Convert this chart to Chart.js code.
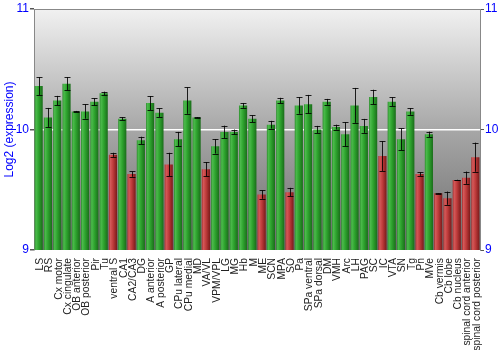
<!DOCTYPE html>
<html>
<head>
<meta charset="utf-8">
<script src="https://cdn.jsdelivr.net/npm/chart.js@4/dist/chart.umd.min.js"></script>
<style>
html,body{margin:0;padding:0;background:#fff;}
#wrap{width:500px;height:350px;}
</style>
</head>
<body>
<div id="wrap"><canvas id="c" width="500" height="350"></canvas></div>
<script>
const categories = ["LS","RS","Cx motor","Cx cingulate","OB anterior","OB posterior","Pir","Tu","ventral S","CA1","CA2/CA3","DG","A anterior","A posterior","GP","CPu lateral","CPu medial","MD","VA/VL","VPM/VPL","LG","MG","Hb","M","ME","SCN","MPA","SO","Pa","SPa ventral","SPa dorsal","DM","VMH","Arc","LH","PAG","SC","IC","VTA","SN","Tg","Pn","MVe","Cb vermis","Cb lobe","Cb nucleus","spinal cord anterior","spinal cord posterior"];
const expression = [10.36,10.10,10.24,10.38,10.15,10.15,10.23,10.30,9.79,10.09,9.63,9.91,10.22,10.14,9.71,9.92,10.24,10.10,9.67,9.86,9.98,9.98,10.20,10.09,9.46,10.04,10.24,9.48,10.20,10.21,10.00,10.23,10.02,9.96,10.20,10.03,10.27,9.78,10.23,9.92,10.15,9.63,9.96,9.47,9.43,9.58,9.60,9.77];
const errors = [0.074,0.079,0.039,0.055,0.004,0.06,0.03,0.014,0.017,0.012,0.022,0.03,0.058,0.036,0.097,0.06,0.11,0.003,0.06,0.06,0.052,0.02,0.02,0.028,0.035,0.032,0.023,0.036,0.069,0.077,0.03,0.024,0.02,0.10,0.145,0.058,0.06,0.124,0.037,0.09,0.028,0.015,0.022,0.002,0.055,0.003,0.051,0.121];
const groups = ["g","g","g","g","g","g","g","g","r","g","r","g","g","g","r","g","g","g","r","g","g","g","g","g","r","g","g","r","g","g","g","g","g","g","g","g","g","r","g","g","g","r","g","r","r","r","r","r"];
const yTicks = [9,10,11];

const BAR_FRAC = 0.88;
const palettes = {
  g: ['#2c8a2c','#4cba4c','#2ea42e','#1a6c1a'],
  r: ['#a22c2c','#d45a5a','#c03c3c','#7a1a1a']
};

function barFill(ctx){
  const chart = ctx.chart;
  const xs = chart.scales.x;
  const p = palettes[groups[ctx.dataIndex]];
  if(!xs || !chart.chartArea) return p[2];
  const x = xs.getPixelForValue(ctx.dataIndex);
  const w = xs.width / categories.length * BAR_FRAC;
  const g = chart.ctx.createLinearGradient(x - w/2, 0, x + w/2, 0);
  g.addColorStop(0, p[0]);
  g.addColorStop(0.18, p[1]);
  g.addColorStop(0.5, p[2]);
  g.addColorStop(1, p[3]);
  return g;
}

const bgPlugin = {
  id: 'bg',
  beforeDraw(chart){
    const {ctx, chartArea:a} = chart;
    const g = ctx.createLinearGradient(0, a.top, 0, a.bottom);
    g.addColorStop(0, '#f1f1f1');
    g.addColorStop(0.5, '#a7a7a7');
    g.addColorStop(1, '#6c6c6c');
    ctx.save();
    ctx.fillStyle = g;
    ctx.fillRect(a.left, a.top, a.right - a.left, a.bottom - a.top);
    ctx.strokeStyle = '#888';
    ctx.lineWidth = 1;
    ctx.beginPath();
    ctx.moveTo(a.left, a.top + 0.5);
    ctx.lineTo(a.right, a.top + 0.5);
    ctx.stroke();
    ctx.restore();
  }
};

const errPlugin = {
  id: 'errbars',
  afterDatasetsDraw(chart){
    const {ctx} = chart;
    const xs = chart.scales.x, ys = chart.scales.y;
    ctx.save();
    ctx.strokeStyle = 'rgba(0,0,0,0.85)';
    ctx.lineWidth = 1;
    expression.forEach((v, i) => {
      const e = errors[i];
      const x = Math.round(xs.getPixelForValue(i)) + 0.5;
      const y1 = ys.getPixelForValue(v + e), y2 = ys.getPixelForValue(v - e);
      ctx.beginPath();
      ctx.moveTo(x, y1); ctx.lineTo(x, y2);
      ctx.moveTo(x - 3, Math.round(y1) + 0.5); ctx.lineTo(x + 3, Math.round(y1) + 0.5);
      ctx.moveTo(x - 3, Math.round(y2) + 0.5); ctx.lineTo(x + 3, Math.round(y2) + 0.5);
      ctx.stroke();
    });
    ctx.restore();
  }
};

const yTickCfg = {
  color: '#0000ff',
  font: {family: 'Liberation Sans, Arial, sans-serif', size: 12},
  padding: 1,
  stepSize: 1,
  autoSkip: false
};

new Chart(document.getElementById('c'), {
  type: 'bar',
  data: {
    labels: categories,
    datasets: [{
      data: expression,
      backgroundColor: barFill,
      borderWidth: 0,
      barPercentage: BAR_FRAC,
      categoryPercentage: 1.0
    }]
  },
  options: {
    responsive: false,
    animation: false,
    layout: {padding: {top: 9, left: 0, right: 0, bottom: 0}},
    plugins: {legend: {display: false}, tooltip: {enabled: false}},
    scales: {
      x: {
        grid: {display: false},
        border: {display: false},
        ticks: {
          autoSkip: false, maxRotation: 90, minRotation: 90,
          color: '#222', padding: 0, labelOffset: 1.5,
          font: {family: 'Liberation Sans, Arial, sans-serif', size: 10.3}
        },
        afterFit(s){ s.height = 100; }
      },
      y: {
        position: 'left',
        min: 9, max: 11,
        afterBuildTicks(s){ s.ticks = yTicks.map(v => ({value: v})); },
        ticks: yTickCfg,
        grid: {
          color: c => (c.tick && c.tick.value === 10) ? '#ffffff' : 'rgba(0,0,0,0)',
          lineWidth: 1.5,
          tickColor: '#555',
          tickLength: 4,
          drawOnChartArea: true
        },
        border: {color: '#888'},
        title: {
          display: true, text: 'Log2 (expression)', color: '#0000ff',
          font: {family: 'Liberation Sans, Arial, sans-serif', size: 12},
          padding: {top: 2, bottom: 0}
        },
        afterFit(s){ s.width = 34; }
      },
      y2: {
        position: 'right',
        min: 9, max: 11,
        afterBuildTicks(s){ s.ticks = yTicks.map(v => ({value: v})); },
        ticks: yTickCfg,
        grid: {drawOnChartArea: false, tickColor: '#555', tickLength: 4},
        border: {color: '#888'},
        afterFit(s){ s.width = 20; }
      }
    }
  },
  plugins: [bgPlugin, errPlugin]
});
</script>
</body>
</html>
